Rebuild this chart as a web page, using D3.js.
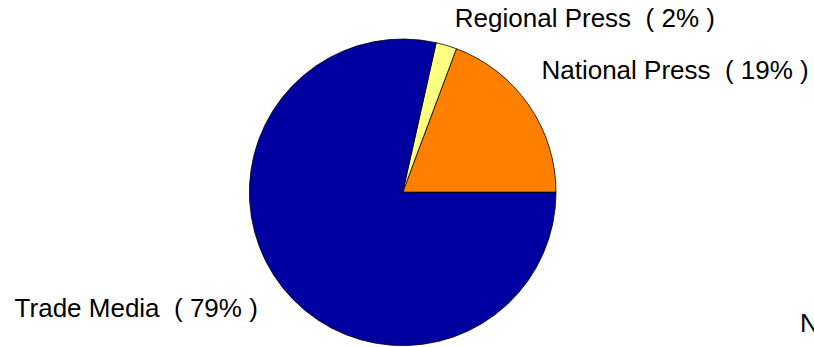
<!DOCTYPE html>
<html>
<head>
<meta charset="utf-8">
<script src="https://cdn.jsdelivr.net/npm/d3@7"></script>
<style>
  html, body { margin: 0; padding: 0; background: #fff; overflow: hidden; }
  svg { display: block; }
  text { font-family: Arial, "Liberation Sans", Helvetica, sans-serif; fill: #000; }
</style>
</head>
<body>
<script>
// Share of press coverage by media type (percent), drawn counter-clockwise from 3 o'clock
const categories = ["National Press", "Regional Press", "Trade Media"];
const shares = [19.3, 2.2, 78.5];
const colors = ["#ff8000", "#ffff80", "#0000a0"];

// Label placement relative to the pie (multiples of the radius) and alignment
const labelLayout = [
  { dx: 0.905, dy: -0.740, anchor: "start" },
  { dx: 0.340, dy: -1.080, anchor: "start" },
  { dx: -0.945, dy: 0.815, anchor: "end" }
];

const W = 814, H = 347;
const cx = 402.7, cy = 192.3, R = 153.3;

const svg = d3.select("body").append("svg")
  .attr("width", W).attr("height", H);

const pie = d3.pie()
  .sort(null)
  .value(d => d)
  .startAngle(Math.PI / 2)
  .endAngle(Math.PI / 2 - 2 * Math.PI);

const arc = d3.arc().innerRadius(0).outerRadius(R);

const g = svg.append("g").attr("transform", `translate(${cx},${cy})`);

const arcs = pie(shares);

g.selectAll("path.slice")
  .data(arcs)
  .join("path")
  .attr("class", "slice")
  .attr("d", arc)
  .attr("fill", (d, i) => colors[i])
  .attr("stroke", "#000")
  .attr("stroke-width", 0.8)
  .attr("stroke-linejoin", "round");

g.selectAll("text.label")
  .data(arcs)
  .join("text")
  .attr("class", "label")
  .attr("x", (d, i) => labelLayout[i].dx * R)
  .attr("y", (d, i) => labelLayout[i].dy * R)
  .attr("text-anchor", (d, i) => labelLayout[i].anchor)
  .style("font-size", "26px")
  .style("white-space", "pre")
  .text((d, i) => `${categories[i]}  ( ${Math.round(d.value)}% )`);

// Partially visible annotation at the lower right edge
svg.append("text")
  .attr("x", 800).attr("y", 332)
  .style("font-size", "26px")
  .text("N");
</script>
</body>
</html>
